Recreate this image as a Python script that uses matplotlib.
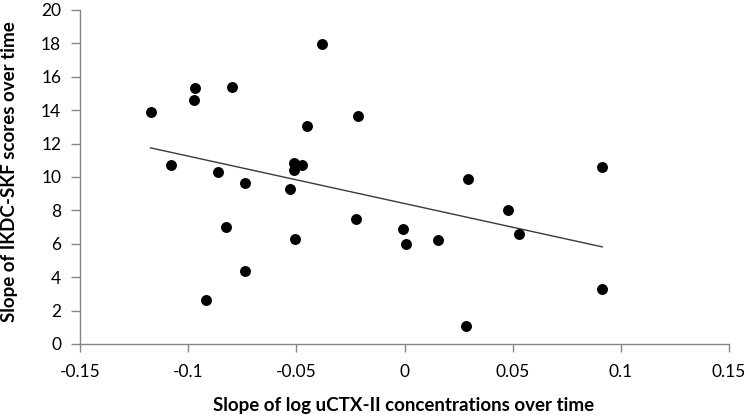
import numpy as np
import matplotlib
matplotlib.use("Agg")
import matplotlib.pyplot as plt

plt.rcParams['font.family'] = ['Lato', 'DejaVu Sans']

x_vals = [-0.1174, -0.1078, -0.0970, -0.0975, -0.0798, -0.0382, -0.0217, -0.0450,
          -0.0864, -0.0736, -0.0510, -0.0510, -0.0473, -0.0527, 0.0294, 0.0914,
          -0.0826, -0.0508, -0.0736, -0.0918, -0.0226, -0.0006, 0.0005, 0.0157,
          0.0477, 0.0528, 0.0914, 0.0285]
y_vals = [13.91, 10.70, 15.31, 14.61, 15.37, 17.96, 13.67, 13.05,
          10.32, 9.66, 10.82, 10.42, 10.70, 9.30, 9.88, 10.58,
          6.99, 6.27, 4.37, 2.61, 7.47, 6.87, 5.97, 6.21,
          8.02, 6.57, 3.29, 1.06]

x_ticks = [-0.15, -0.1, -0.05, 0, 0.05, 0.1, 0.15]
x_tick_labels = ['-0.15', '-0.1', '-0.05', '0', '0.05', '0.1', '0.15']
y_ticks = [0, 2, 4, 6, 8, 10, 12, 14, 16, 18, 20]

x = np.array(x_vals)
y = np.array(y_vals)
slope, intercept = np.polyfit(x, y, 1)
xl = np.array([x.min(), x.max()])

fig = plt.figure(figsize=(7.5, 4.16), dpi=100)
ax = fig.add_axes([80/750, 1 - 344/416, (729-80)/750, (344-10)/416])

ax.plot(xl, slope * xl + intercept, color='#3a3a3a', lw=1.0, zorder=2)
ax.scatter(x, y, s=62, color='black', zorder=3, linewidths=0)

ax.set_xlim(-0.15, 0.15)
ax.set_ylim(0, 20)
ax.set_xticks(x_ticks)
ax.set_xticklabels(x_tick_labels)
ax.set_yticks(y_ticks)

for s in ['top', 'right']:
    ax.spines[s].set_visible(False)
for s in ['left', 'bottom']:
    ax.spines[s].set_color('#868686')
    ax.spines[s].set_linewidth(1.0)
ax.tick_params(axis='both', direction='out', length=6.5, width=1.0, color='#868686',
               labelsize=12.5, labelcolor='black')
ax.tick_params(axis='y', pad=7)
ax.tick_params(axis='x', length=5.5, pad=9)

ax.set_xlabel('Slope of log uCTX-II concentrations over time', fontsize=13.5,
              fontweight='bold')
ax.set_ylabel('Slope of IKDC-SKF scores over time', fontsize=13.5,
              fontweight='bold')
ax.xaxis.set_label_coords((404 - 80) / 649, -(405 - 344) / 334)
ax.yaxis.set_label_coords(-(80 - 10) / 649, (344 - 172) / 334)
ax.xaxis.label.set_va('center')
ax.yaxis.label.set_va('center')

fig.savefig('out.png', dpi=100)
